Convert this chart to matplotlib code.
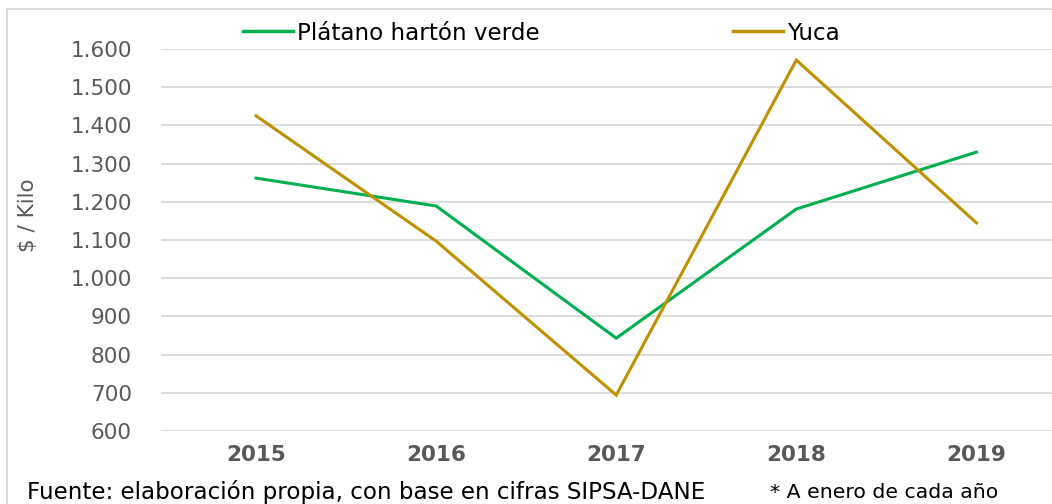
import matplotlib
matplotlib.use("Agg")
import matplotlib.pyplot as plt
from matplotlib.lines import Line2D
from matplotlib.ticker import FuncFormatter

years = ["2015", "2016", "2017", "2018", "2019"]
platano = [1262, 1189, 843, 1181, 1330]
yuca = [1425, 1097, 694, 1571, 1145]
yticks = [600, 700, 800, 900, 1000, 1100, 1200, 1300, 1400, 1500, 1600]

W, H = 1052, 504
plt.rcParams['font.family'] = ['DejaVu Sans']
fig = plt.figure(figsize=(W / 100, H / 100), dpi=100)

FS = 15.5
LFS = 16.6
left, right = 161 / W, 1052 / W
top_px, bot_px = 49, 431
ax = fig.add_axes([left, 1 - bot_px / H, right - left, (bot_px - top_px) / H])

x = list(range(len(years)))
ax.plot(x, platano, color="#00B050", lw=2.2, solid_joinstyle="miter")
ax.plot(x, yuca, color="#BF9000", lw=2.2, solid_joinstyle="miter")

ax.set_ylim(600, 1600)
ax.set_xlim(-0.528, 4.42)
ax.set_yticks(yticks)
ax.yaxis.set_major_formatter(FuncFormatter(lambda v, p: f"{int(v):,}".replace(",", ".")))
ax.set_xticks(x)
ax.set_xticklabels(years, fontweight="bold")
ax.grid(axis="y", color="#D9D9D9", lw=1.3)
ax.set_axisbelow(True)
for s in ax.spines.values():
    s.set_visible(False)
ax.tick_params(axis="y", length=0, pad=21, labelsize=FS, labelcolor="#595959")
ax.tick_params(axis="x", length=0, pad=10, labelsize=FS, labelcolor="#595959")
ax.set_ylabel("$ / Kilo", fontsize=FS, color="#595959")
ax.yaxis.set_label_coords((38 - 161) / (1052 - 161), (431 - 215) / (431 - 49))

fig.legend(handles=[Line2D([], [], color="#00B050", lw=2.5)], labels=["Plátano hartón verde"],
           loc="center left", bbox_to_anchor=(222 / W, 1 - 33 / H), frameon=False,
           fontsize=LFS, handlelength=2.17, handletextpad=0.17)
fig.legend(handles=[Line2D([], [], color="#BF9000", lw=2.5)], labels=["Yuca"],
           loc="center left", bbox_to_anchor=(712 / W, 1 - 33 / H), frameon=False,
           fontsize=LFS, handlelength=2.17, handletextpad=0.17)

fig.add_artist(Line2D([7 / W, 1.0], [1 - 9 / H, 1 - 9 / H], color="#D9D9D9", lw=1.3, transform=fig.transFigure))
fig.add_artist(Line2D([7 / W, 7 / W], [1 - 9 / H, 0], color="#D9D9D9", lw=1.3, transform=fig.transFigure))

fig.text(27 / W, 1 - 492 / H, "Fuente: elaboración propia, con base en cifras SIPSA-DANE",
         fontsize=16.6, va="center", ha="left", color="black")
fig.text(770 / W, 1 - 492 / H, "* A enero de cada año",
         fontsize=14.7, va="center", ha="left", color="black")

fig.savefig("out.png", dpi=100)
